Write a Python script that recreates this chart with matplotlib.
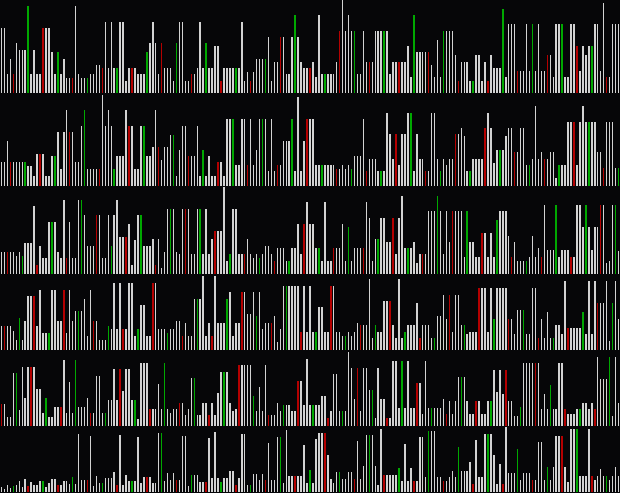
import matplotlib
matplotlib.use("Agg")
import matplotlib.pyplot as plt
import numpy as np

# bar heights for each of the six wrapped rows (209 visible bars each)
row1 = [65,65,19,34,19,50,43,43,43,87, 19,43,19,19,65,65,65,41,19,41,
        19,34,15,15,15,87,19,15,15,15, 19,19,28,28,25,71,25,71,25,25,
        71,71,12,25,25,25,19,19,19,41, 50,71,50,19,50,25,25,25,12,50,
        71,71,12,12,19,19,25,71,25,50, 25,25,47,47,12,25,25,25,25,25,
        25,71,12,21,12,21,34,34,34,34, 56,12,31,31,56,56,19,19,56,78,
        56,31,25,25,25,31,16,78,19,19, 19,19,19,31,62,93,62,78,62,62,
        19,19,62,31,31,31,62,62,62,62, 62,19,31,31,31,31,31,47,16,78,
        41,41,41,41,41,28,16,53,16,62, 62,62,62,38,12,31,31,31,12,12,
        38,38,12,31,12,38,25,25,25,84, 16,69,69,69,22,22,22,69,22,69,
        22,69,22,22,38,38,16,69,69,69, 16,16,69,69,47,22,47,38,47,47,
        69,69,22,90,16,16,69,69,69]
row2 = [24,24,45,24,24,24,24,24,24,20, 20,10,32,32,32,10,10,30,30,54,
        17,54,76,54,54,24,24,60,76,17, 17,17,17,17,91,60,76,60,17,30,
        30,30,76,60,60,17,17,60,60,30, 30,39,76,39,26,39,39,51,51,10,
        36,60,60,30,30,30,60,10,36,10, 30,10,10,24,24,10,67,67,67,21,
        21,67,67,21,67,21,36,67,67,67, 15,67,15,21,21,45,45,45,67,15,
        89,15,45,67,67,67,21,21,21,21, 21,21,21,17,17,21,17,21,17,30,
        30,30,67,15,27,27,27,15,15,15, 73,52,27,52,21,52,52,73,73,15,
        52,27,27,15,15,73,73,27,15,27, 21,27,27,52,52,58,50,15,15,27,
        27,27,27,58,73,58,23,36,36,36, 50,58,58,34,34,58,58,21,21,27,
        80,27,34,27,27,34,34,8,21,21, 21,64,64,64,21,64,80,64,64,64,
        64,34,34,18,64,64,64,18,18]
row3 = [22,22,22,22,22,18,22,18,31,31, 31,68,9,28,16,16,52,52,52,22,
        16,74,16,52,16,16,74,74,59,28, 28,28,59,59,16,16,59,28,59,74,
        37,37,37,50,9,34,59,59,28,28, 28,35,9,35,6,22,65,65,65,22,
        20,65,65,65,20,20,65,65,20,65, 20,35,43,43,43,87,13,20,65,65,
        20,20,20,35,20,16,20,16,20,28, 28,20,13,26,26,26,13,13,26,26,
        50,20,50,72,50,50,26,26,13,72, 13,13,26,26,26,50,13,47,13,26,
        26,26,26,72,56,13,35,35,56,56, 32,32,56,20,56,78,26,26,26,32,
        11,20,20,20,63,63,63,78,63,20, 63,32,63,63,63,63,17,63,32,32,
        17,17,41,41,17,41,17,54,63,63, 63,38,17,32,13,13,13,13,17,38,
        17,26,17,69,24,24,24,69,17,24, 24,24,17,17,69,69,47,69,47,24,
        47,47,69,69,11,13,69,69,23]
row4 = [24,24,24,24,19,10,32,10,29,54, 54,54,24,60,17,17,17,60,60,29,
        29,60,17,60,29,39,39,39,51,14, 60,29,29,10,10,10,24,21,67,21,
        67,21,21,67,67,14,21,45,45,14, 14,67,67,21,21,21,17,21,21,29,
        29,14,27,14,14,51,51,51,74,14, 27,14,74,27,27,27,51,58,14,27,
        27,58,58,36,36,58,34,58,21,27, 27,27,34,8,21,64,64,64,64,64,
        64,18,64,18,64,18,18,43,43,18, 18,64,64,18,18,14,14,18,14,18,
        27,25,25,25,71,12,25,18,18,49, 49,49,25,12,71,12,18,25,25,25,
        47,12,25,25,25,12,12,34,34,55, 31,55,18,55,55,25,25,16,18,18,
        18,62,62,62,18,62,31,62,62,62, 62,31,31,16,40,40,40,16,16,62,
        62,12,31,12,38,12,12,25,25,16, 69,22,22,22,22,22,38,16,69,16,
        69,47,47,47,69,9,47,69,31]
row5 = [22,22,9,9,53,53,16,59,28,59, 59,59,37,37,13,28,9,9,19,19,
        19,66,13,44,13,66,19,19,19,28, 13,13,50,50,13,13,26,26,57,26,
        57,35,57,57,26,26,7,63,63,63, 17,17,17,42,17,63,17,13,17,17,
        23,23,11,17,48,48,11,11,23,23, 11,23,11,33,54,54,54,23,15,17,
        61,61,61,61,61,30,15,39,15,61, 11,11,11,23,15,21,21,21,15,15,
        45,45,21,67,21,21,21,21,30,30, 8,15,52,52,15,15,15,74,58,27,
        58,15,58,58,36,36,8,58,27,27, 8,8,65,65,18,65,18,65,18,18,
        43,43,12,65,18,18,18,18,18,27, 12,25,12,25,49,49,49,25,12,12,
        25,25,12,12,25,25,56,34,56,32, 56,25,25,10,10,19,63,63,63,63,
        63,63,17,32,17,41,17,17,63,63, 17,12,12,12,17,17,23,23,17,23,
        17,69,47,47,47,69,10,69,23]
row6 = [5,3,7,4,6,7,11,5,13,6, 10,7,7,11,11,5,9,13,13,7,
        7,11,11,8,15,8,58,12,12,12, 56,6,16,9,9,14,14,14,20,7,
        57,7,17,11,11,11,55,9,15,15, 15,9,9,59,59,11,19,12,19,12,
        12,56,56,6,17,17,17,10,10,10, 54,14,60,14,10,14,14,21,21,7,
        14,58,58,7,7,18,18,12,18,12, 49,12,12,55,55,9,62,16,16,16,
        16,16,47,9,22,9,53,59,59,59, 37,13,9,20,20,13,13,20,20,13,
        51,13,26,57,57,57,26,7,63,17, 17,17,17,17,24,11,48,11,24,11,
        11,55,55,15,61,61,61,15,15,11, 11,15,21,15,45,21,21,21,30,8,
        52,15,15,58,58,58,37,8,28,8, 65,19,19,19,43,12,19,19,19,12,
        12,50,50,12,25,12,25,56,56,56, 25,10,63,63,63,16,16,16,63,16,
        12,16,23,16,16,12,16,25,16]
rows = [row1, row2, row3, row4, row5, row6]
# global index of the first visible bar of each row (every 5th bar is marked)
row_start = [0, 211, 422, 633, 844, 1055]

BG = "#060608"
BAR = "#d2d2d2"
RED = "#b40000"
GREEN = "#00a800"

fig = plt.figure(figsize=(6.2, 4.93), dpi=100, facecolor=BG)
gs = fig.add_gridspec(len(rows), 1, height_ratios=[max(r) for r in rows],
                      left=0, right=1, top=1, bottom=0.0015, hspace=0.02)

for k, (vals, start) in enumerate(zip(rows, row_start)):
    ax = fig.add_subplot(gs[k])
    ax.set_facecolor(BG)
    x = np.arange(len(vals))
    g = start + x
    colors = [RED if gi % 10 == 4 else GREEN if gi % 10 == 9 else BAR for gi in g]
    ax.bar(x, vals, width=0.5, color=colors, linewidth=0)
    ax.set_xlim(-0.5, len(vals) - 0.5)
    ax.set_ylim(0, max(vals))
    ax.axis("off")

fig.savefig("out.png", dpi=100, facecolor=BG)
